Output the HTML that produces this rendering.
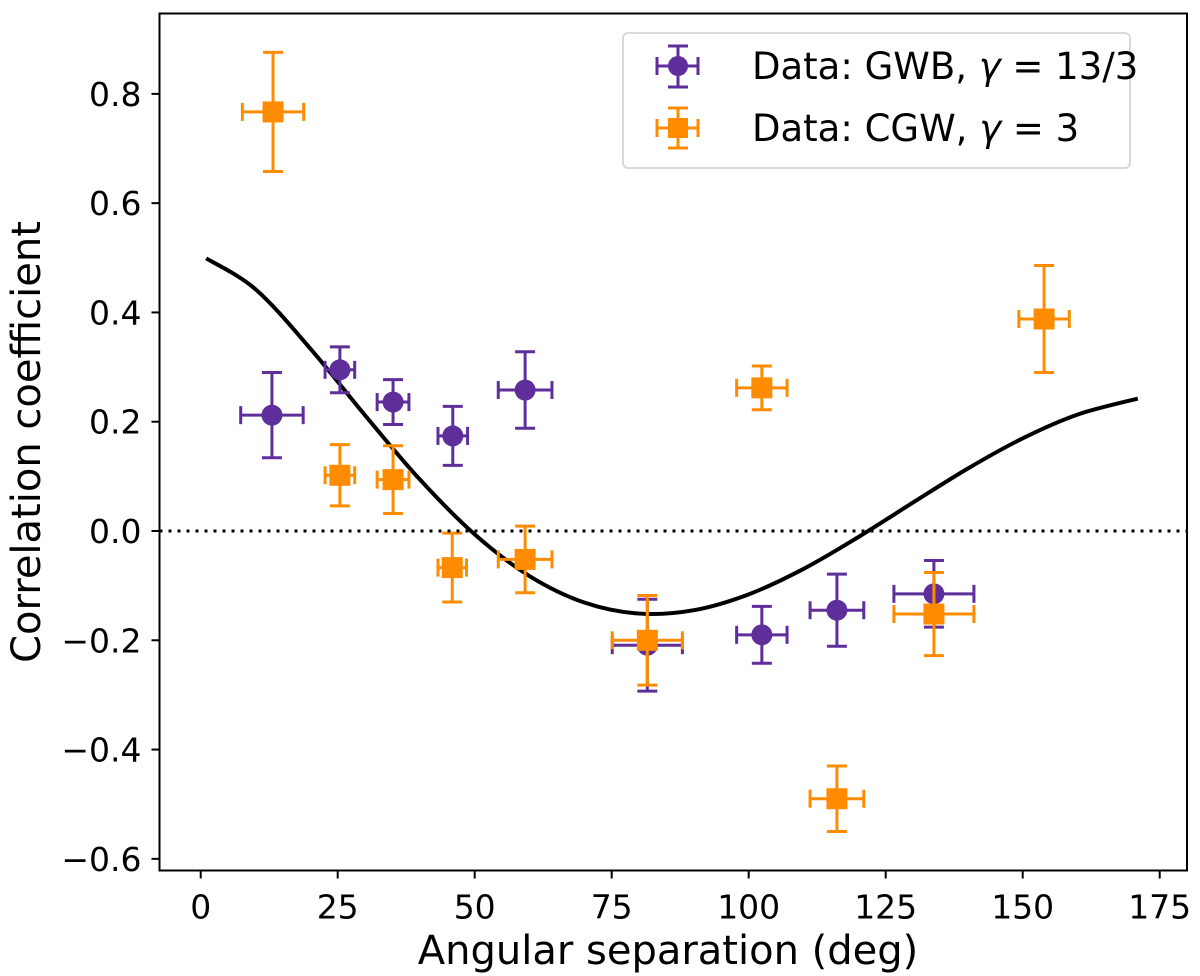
<!DOCTYPE html>
<html><head><meta charset="utf-8"><style>
body{margin:0;background:#fff;}
svg{display:block;font-family:"DejaVu Sans","Liberation Sans",sans-serif;}
</style></head><body>
<svg id="chart" width="1200" height="976" viewBox="0 0 1200 976" xmlns="http://www.w3.org/2000/svg">
<g id="curve"></g>
<g id="series"></g>
<g id="axes"></g>
<g>
<rect x="623" y="33" width="507" height="135" rx="5" fill="#fff" fill-opacity="0.8" stroke="#d9d9d9" stroke-width="2"/>
<g>
<line x1="657" y1="66" x2="698" y2="66" stroke="#5e2f9a" stroke-width="3"/>
<line x1="678" y1="46" x2="678" y2="87" stroke="#5e2f9a" stroke-width="3"/>
<line x1="657" y1="57" x2="657" y2="75" stroke="#5e2f9a" stroke-width="3"/>
<line x1="698" y1="57" x2="698" y2="75" stroke="#5e2f9a" stroke-width="3"/>
<line x1="668" y1="46" x2="688" y2="46" stroke="#5e2f9a" stroke-width="3"/>
<line x1="668" y1="87" x2="688" y2="87" stroke="#5e2f9a" stroke-width="3"/>
<circle cx="678" cy="66" r="10" fill="#5e2f9a"/>
<text x="752" y="79" font-size="37">Data: GWB, <tspan font-style="italic">γ</tspan> = 13/3</text>
</g>
<g>
<line x1="657" y1="128" x2="698" y2="128" stroke="#ff8c00" stroke-width="3"/>
<line x1="678" y1="108" x2="678" y2="148" stroke="#ff8c00" stroke-width="3"/>
<line x1="657" y1="119" x2="657" y2="137" stroke="#ff8c00" stroke-width="3"/>
<line x1="698" y1="119" x2="698" y2="137" stroke="#ff8c00" stroke-width="3"/>
<line x1="668" y1="108" x2="688" y2="108" stroke="#ff8c00" stroke-width="3"/>
<line x1="668" y1="148" x2="688" y2="148" stroke="#ff8c00" stroke-width="3"/>
<rect x="668" y="118" width="20" height="20" fill="#ff8c00"/>
<text x="752" y="141" font-size="37">Data: CGW, <tspan font-style="italic">γ</tspan> = 3</text>
</g>
</g>
<text x="668" y="964" font-size="40" text-anchor="middle">Angular separation (deg)</text>
<text transform="translate(40,442) rotate(-90)" font-size="40" text-anchor="middle">Correlation coefficient</text>
</svg>
<script>
const gwbX=[13.0,25.4,35.1,46.0,59.2,81.5,102.4,116.1,133.8];
const gwbY=[0.212,0.295,0.236,0.174,0.258,-0.209,-0.190,-0.145,-0.115];
const gwbXErr=[5.7,2.7,2.9,2.7,4.9,6.4,4.6,4.9,7.3];
const gwbYErr=[0.078,0.042,0.041,0.054,0.070,0.084,0.052,0.066,0.061];
const cgwX=[13.2,25.4,35.1,45.9,59.2,81.5,102.4,116.1,133.8,153.9];
const cgwY=[0.767,0.102,0.094,-0.067,-0.052,-0.200,0.262,-0.490,-0.152,0.388];
const cgwXErr=[5.6,2.7,2.9,2.6,4.9,6.4,4.6,4.9,7.3,4.6];
const cgwYErr=[0.109,0.056,0.062,0.063,0.061,0.082,0.040,0.060,0.076,0.098];
const curveX=[1,10,20,30,40,50,60,70,80,90,100,110,120,130,140,150,160,171];
const curveY=[0.499,0.4425,0.334,0.2116,0.0942,-0.0062,-0.0824,-0.1309,-0.1511,-0.1449,-0.1159,-0.0694,-0.0112,0.0522,0.1144,0.1696,0.2130,0.2423];
const xTicks=[0,25,50,75,100,125,150,175];
const yTicks=[-0.6,-0.4,-0.2,0.0,0.2,0.4,0.6,0.8];
const yTickLabels=["−0.6","−0.4","−0.2","0.0","0.2","0.4","0.6","0.8"];

const NS="http://www.w3.org/2000/svg";
const L=159.5,R=1187,T=13.5,B=870.5;
function sx(v){return 200.7+v*5.48;}
function sy(v){return 531-v*546.4;}
function mk(tag,attrs,parent){const e=document.createElementNS(NS,tag);for(const k in attrs)e.setAttribute(k,attrs[k]);parent.appendChild(e);return e;}

const axes=document.getElementById('axes');
const zl=mk('line',{x1:L,x2:R,y1:sy(0),y2:sy(0),stroke:'#000','stroke-width':3,'stroke-dasharray':'3,6'},axes);


const fr=mk('rect',{x:L,y:T,width:R-L,height:B-T,fill:'none',stroke:'#000','stroke-width':2},axes);


xTicks.forEach(v=>{
  mk('line',{x1:sx(v),x2:sx(v),y1:B,y2:B+8,stroke:'#000','stroke-width':2},axes);
  const t=mk('text',{x:sx(v),y:B+48,'font-size':33,'text-anchor':'middle'},axes);
  t.textContent=v;
  
  
});
yTicks.forEach((v,i)=>{
  mk('line',{x1:L-8,x2:L,y1:sy(v),y2:sy(v),stroke:'#000','stroke-width':2},axes);
  const t=mk('text',{x:L-18,y:sy(v)+12,'font-size':33,'text-anchor':'end'},axes);
  t.textContent=yTickLabels[i];
  
  
});

const P=curveX.map((x,i)=>[sx(x),sy(curveY[i])]);
let d='M'+P[0][0]+','+P[0][1];
for(let i=0;i<P.length-1;i++){
  const p0=P[Math.max(0,i-1)],p1=P[i],p2=P[i+1],p3=P[Math.min(P.length-1,i+2)];
  const c1=[p1[0]+(p2[0]-p0[0])/6,p1[1]+(p2[1]-p0[1])/6];
  const c2=[p2[0]-(p3[0]-p1[0])/6,p2[1]-(p3[1]-p1[1])/6];
  d+=' C'+c1+' '+c2+' '+p2;
}
const cp=mk('path',{d:d,fill:'none',stroke:'#000','stroke-width':4},document.getElementById('curve'));



const series=document.getElementById('series');
function drawSeries(xs,ys,xe,ye,color,shape,name){
  xs.forEach((x,i)=>{
    const g=mk('g',{},series);
    
    
    const cx=sx(x),cy=sy(ys[i]),x0=sx(x-xe[i]),x1=sx(x+xe[i]),y0=sy(ys[i]+ye[i]),y1=sy(ys[i]-ye[i]);
    const st={stroke:color,'stroke-width':3};
    mk('line',Object.assign({x1:x0,x2:x1,y1:cy,y2:cy},st),g);
    mk('line',Object.assign({x1:cx,x2:cx,y1:y0,y2:y1},st),g);
    mk('line',Object.assign({x1:x0,x2:x0,y1:cy-9,y2:cy+9},st),g);
    mk('line',Object.assign({x1:x1,x2:x1,y1:cy-9,y2:cy+9},st),g);
    mk('line',Object.assign({x1:cx-10,x2:cx+10,y1:y0,y2:y0},st),g);
    mk('line',Object.assign({x1:cx-10,x2:cx+10,y1:y1,y2:y1},st),g);
    if(shape==='circle') mk('circle',{cx:cx,cy:cy,r:10.5,fill:color},g);
    else mk('rect',{x:cx-10.5,y:cy-10.5,width:21,height:21,fill:color},g);
  });
}
drawSeries(gwbX,gwbY,gwbXErr,gwbYErr,'#5e2f9a','circle','gwb');
drawSeries(cgwX,cgwY,cgwXErr,cgwYErr,'#ff8c00','square','cgw');
</script>
</body></html>
